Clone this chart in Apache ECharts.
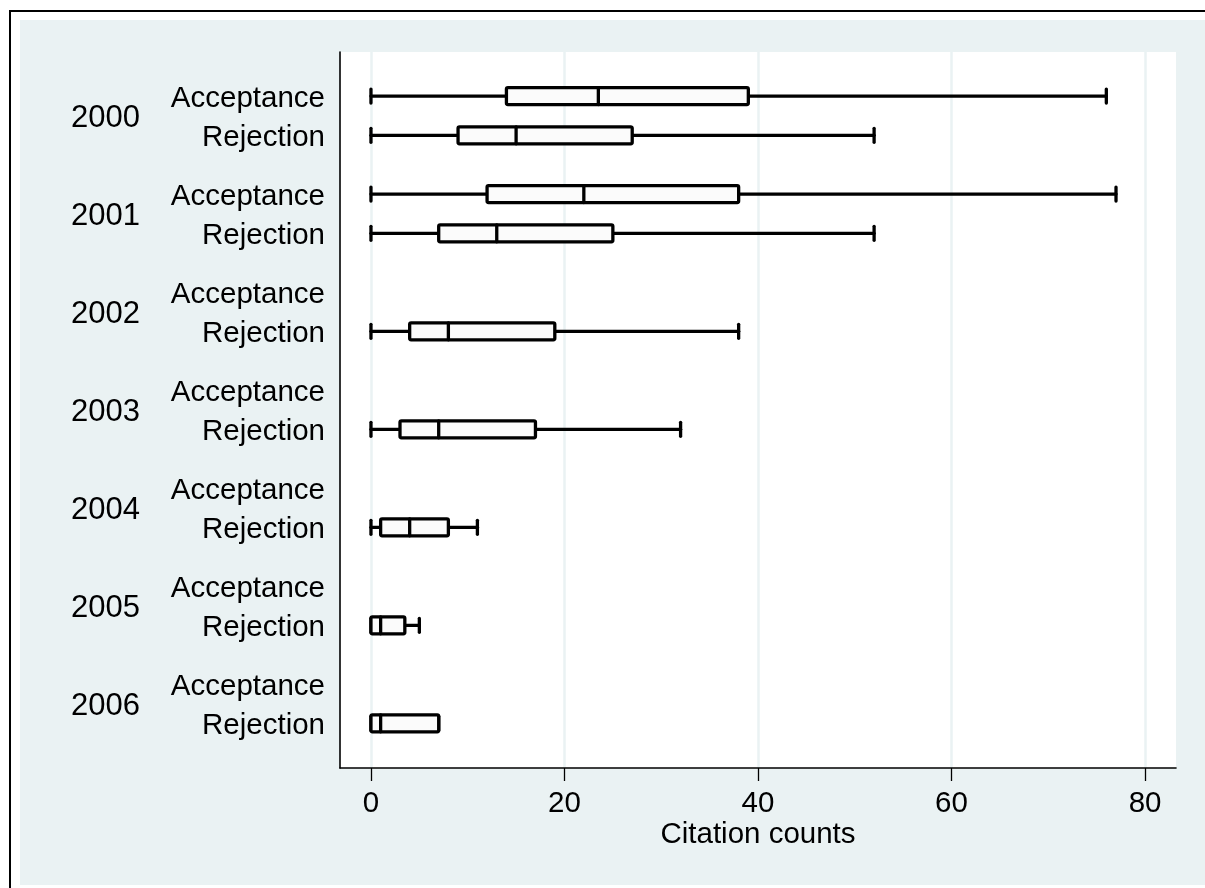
<!DOCTYPE html>
<html>
<head>
<meta charset="utf-8">
<script src="https://cdn.jsdelivr.net/npm/echarts@6/dist/echarts.min.js"></script>
<style>
  html, body { margin: 0; padding: 0; background: #ffffff; }
  #wrap { position: relative; width: 1205px; height: 888px; overflow: hidden; background: #ffffff; }
  #borderL { position: absolute; left: 9px; top: 10px; width: 2px; height: 878px; background: #000; }
  #borderT { position: absolute; left: 9px; top: 10px; width: 1196px; height: 2px; background: #000; }
  #bg { position: absolute; left: 20px; top: 20px; width: 1185px; height: 865px; background: #eaf2f3; }
  #chart { position: absolute; left: 0; top: 0; width: 1205px; height: 888px; }
</style>
</head>
<body>
<div id="wrap">
  <div id="borderL"></div>
  <div id="borderT"></div>
  <div id="bg"></div>
  <div id="chart"></div>
</div>
<script>
// ---- data ----
const years = ['2000', '2001', '2002', '2003', '2004', '2005', '2006'];
const groups = ['Acceptance', 'Rejection'];
// [min, q1, median, q3, max] per year
const acceptance = [
  [0, 14, 23.5, 39, 76],
  [0, 12, 22, 38, 77],
  null, null, null, null, null
];
const rejection = [
  [0, 9, 15, 27, 52],
  [0, 7, 13, 25, 52],
  [0, 4, 8, 19, 38],
  [0, 3, 7, 17, 32],
  [0, 1, 4, 8, 11],
  [0, 0, 1, 3.5, 5],
  [0, 0, 1, 7, 7]
];
const xTicks = [0, 20, 40, 60, 80];
const xTitle = 'Citation counts';

// ---- layout helpers (row positions on the value axis) ----
const GROUP_STEP = 2.5;
const LABEL_NUDGE = 0.07; // small downward shift of label text to centre glyphs on rows
function rowPos(g, k) { return g * GROUP_STEP + k; }
const rowPositions = [], rowLabels = [], yearPositions = [];
years.forEach((y, g) => {
  groups.forEach((name, k) => { rowPositions.push(rowPos(g, k) + LABEL_NUDGE); rowLabels.push(name); });
  yearPositions.push(rowPos(g, 0.5) + LABEL_NUDGE);
});

const boxData = [];
years.forEach((y, g) => {
  [acceptance, rejection].forEach((arr, k) => {
    const s = arr[g];
    if (s) boxData.push([rowPos(g, k)].concat(s));
  });
});

const FONT = '"Liberation Sans", Arial, sans-serif';
const chart = echarts.init(document.getElementById('chart'), null, { renderer: 'canvas' });

function lookup(v, positions, labels) {
  for (let i = 0; i < positions.length; i++) if (Math.abs(positions[i] - v) < 1e-6) return labels[i];
  return '';
}

const option = {
  backgroundColor: 'transparent',
  animation: false,
  grid: { left: 340, top: 52, right: 29, bottom: 120, show: true, backgroundColor: '#ffffff', borderWidth: 0 },
  xAxis: {
    type: 'value', min: -3.2, max: 83.2,
    name: xTitle, nameLocation: 'middle', nameGap: 52, nameMoveOverlap: false,
    nameTextStyle: { fontFamily: FONT, fontSize: 29.5, color: '#000' },
    axisLine: { show: true, onZero: false, lineStyle: { color: '#000', width: 1.6 } },
    axisTick: { show: true, length: 13, customValues: xTicks, lineStyle: { color: '#000', width: 1.3 } },
    axisLabel: { customValues: xTicks, margin: 21, fontFamily: FONT, fontSize: 29.5, color: '#000' },
    splitLine: { show: true, lineStyle: { color: '#eaf2f3', width: 2.5 } }
  },
  yAxis: [
    {
      type: 'value', min: -1.125, max: 17.14, inverse: true, position: 'left',
      axisLine: { show: true, onZero: false, lineStyle: { color: '#000', width: 1.6 } },
      axisTick: { show: false },
      splitLine: { show: false },
      axisLabel: {
        customValues: rowPositions, margin: 15,
        fontFamily: FONT, fontSize: 29.5, color: '#000',
        formatter: v => lookup(v, rowPositions, rowLabels)
      }
    },
    {
      type: 'value', min: -1.125, max: 17.14, inverse: true, position: 'left', offset: 186,
      axisLine: { show: false },
      axisTick: { show: false },
      splitLine: { show: false },
      axisLabel: {
        customValues: yearPositions, margin: 14,
        fontFamily: FONT, fontSize: 31, color: '#000',
        formatter: v => lookup(v, yearPositions, years)
      }
    }
  ],
  series: [{
    type: 'custom',
    xAxisIndex: 0, yAxisIndex: 0,
    encode: { x: [1, 2, 3, 4, 5], y: 0 },
    data: boxData,
    clip: false,
    renderItem: function (params, api) {
      const y = api.value(0);
      const p = [1, 2, 3, 4, 5].map(i => api.coord([api.value(i), y]));
      const cy = p[0][1];
      const h = 8.5, c = 7;
      const lw = 3.3;
      const ls = { stroke: '#000', lineWidth: lw, lineCap: 'round', lineJoin: 'round' };
      return {
        type: 'group',
        children: [
          { type: 'line', shape: { x1: p[0][0], y1: cy, x2: p[1][0], y2: cy }, style: ls },
          { type: 'line', shape: { x1: p[3][0], y1: cy, x2: p[4][0], y2: cy }, style: ls },
          { type: 'line', shape: { x1: p[0][0], y1: cy - c, x2: p[0][0], y2: cy + c }, style: ls },
          { type: 'line', shape: { x1: p[4][0], y1: cy - c, x2: p[4][0], y2: cy + c }, style: ls },
          { type: 'rect', shape: { x: p[1][0], y: cy - h, width: p[3][0] - p[1][0], height: 2 * h, r: 1.5 },
            style: { fill: '#fbfbfb', stroke: '#000', lineWidth: lw, lineJoin: 'round' } },
          { type: 'line', shape: { x1: p[2][0], y1: cy - h, x2: p[2][0], y2: cy + h }, style: ls }
        ]
      };
    }
  }]
};
chart.setOption(option);
</script>
</body>
</html>
